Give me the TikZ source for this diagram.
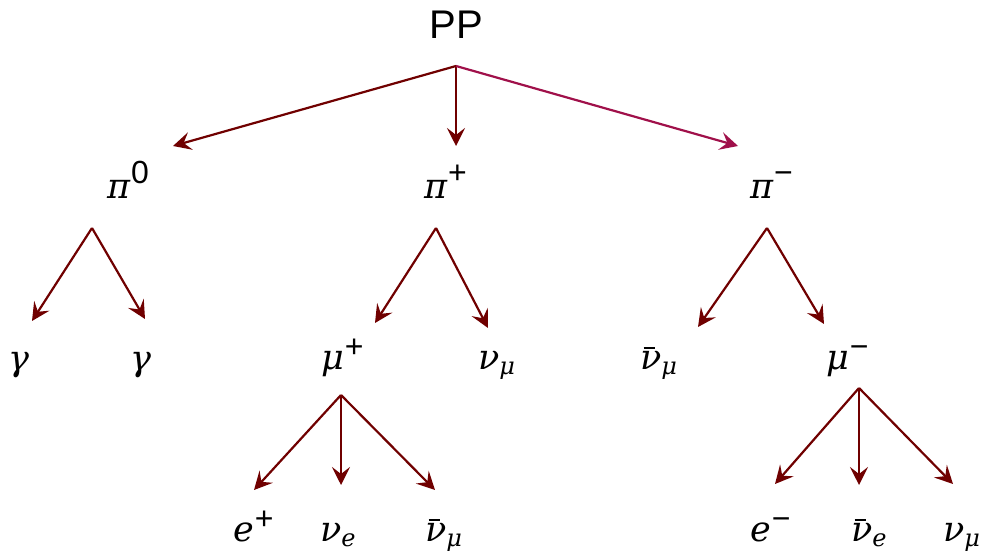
\documentclass[tikz,border=0pt]{standalone}
\usepackage{fontspec}
\setmainfont{Liberation Sans}
\newfontfamily\gk{DejaVu Serif}
\usetikzlibrary{arrows.meta}
\definecolor{dred}{HTML}{700000}
\definecolor{crim}{HTML}{A0104A}
\newcommand{\gi}[1]{{\gk\itshape #1}}
\newcommand{\nub}{\ooalign{\gi{ν}\cr\kern0.1em\rule[0.56em]{0.32em}{0.08em}}}
\newcommand{\sub}[1]{\raisebox{-5pt}{\fontsize{24}{28}\selectfont\gi{#1}}}
\newcommand{\sups}[2][12pt]{\kern1pt\raisebox{#1}{\fontsize{32}{36}\selectfont #2}}
\begin{document}
\begin{tikzpicture}[x=1pt,y=-1pt,
  arr/.style={draw=dred,line width=2.2pt,-{Stealth[length=18pt,width=18pt,inset=7pt]}},
  lbl/.style={inner sep=0pt,anchor=base west,font=\fontsize{35}{40}\selectfont}]
\useasboundingbox (0,0) rectangle (982,556);
\node[inner sep=0pt,font=\fontsize{40}{46}\selectfont] (pp) at (456,25) {PP};
\coordinate (f0) at (456,66);
\coordinate (t1) at (173,146);
\coordinate (t2) at (456,146);
\coordinate (t3) at (738,146);
\draw[arr] (f0) -- (t1);
\draw[arr] (f0) -- (t2);
\draw[arr,draw=crim] (f0) -- (t3);
% pions
\node[lbl] (pi0) at (107,199) {\gi{π}\sups[15pt]{0}};
\node[lbl] (pip) at (424,199) {\gi{π}\sups[15pt]{+}};
\node[lbl] (pim) at (750,199) {\gi{π}\sups[15pt]{−}};
% pi0
\coordinate (a0) at (92,228);
\coordinate (a1) at (32,321);
\coordinate (a2) at (145,319);
\draw[arr] (a0) -- (a1);
\draw[arr] (a0) -- (a2);
\node[lbl] (g1) at (8,370) {\gi{γ}};
\node[lbl] (g2) at (130,370) {\gi{γ}};
% pi+
\coordinate (b0) at (436,228);
\coordinate (b1) at (375,323);
\coordinate (b2) at (488,328);
\draw[arr] (b0) -- (b1);
\draw[arr] (b0) -- (b2);
\node[lbl] (mup) at (321,369) {\gi{μ}\sups{+}};
\node[lbl] (num1) at (478,369) {\gi{ν}\sub{μ}};
% pi-
\coordinate (c0) at (767,228);
\coordinate (c1) at (698,327);
\coordinate (c2) at (824,324);
\draw[arr] (c0) -- (c1);
\draw[arr] (c0) -- (c2);
\node[lbl] (nubm1) at (640,369) {\nub\sub{μ}};
\node[lbl] (mum) at (826,369) {\gi{μ}\sups{−}};
% mu+
\coordinate (d0) at (341,395);
\coordinate (d1) at (254,490);
\coordinate (d2) at (341,485);
\coordinate (d3) at (435,490);
\draw[arr] (d0) -- (d1);
\draw[arr] (d0) -- (d2);
\draw[arr] (d0) -- (d3);
\node[lbl] (ep) at (233,541) {\gi{e}\sups{+}};
\node[lbl] (nue) at (320,541) {\gi{ν}\sub{e}};
\node[lbl] (nubm2) at (425,541) {\nub\sub{μ}};
% mu-
\coordinate (e0) at (859,388);
\coordinate (e1) at (775,484);
\coordinate (e2) at (859,485);
\coordinate (e3) at (953,484);
\draw[arr] (e0) -- (e1);
\draw[arr] (e0) -- (e2);
\draw[arr] (e0) -- (e3);
\node[lbl] (em) at (750,541) {\gi{e}\sups{−}};
\node[lbl] (nube) at (851,541) {\nub\sub{e}};
\node[lbl] (num2) at (943,541) {\gi{ν}\sub{μ}};
\end{tikzpicture}
\end{document}
